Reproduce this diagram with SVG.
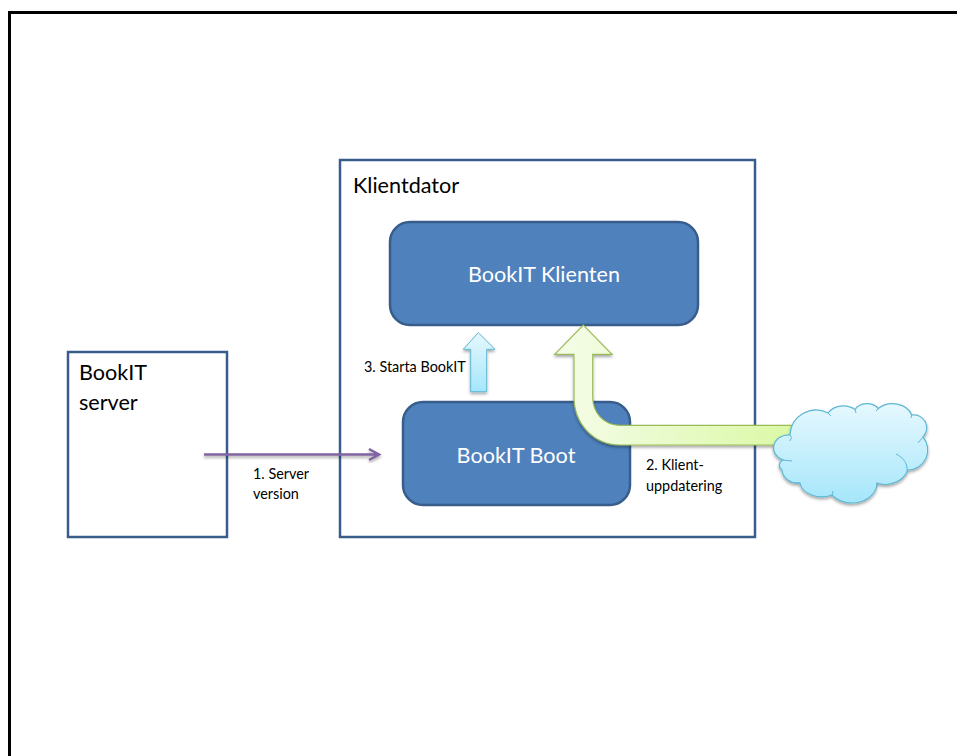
<svg xmlns="http://www.w3.org/2000/svg" width="957" height="756" viewBox="0 0 957 756">
<style>
text{font-family:"Lato","Open Sans","Liberation Sans",sans-serif}
.box{fill:#fff;stroke:#385d8a;stroke-width:2.5}
.blue{fill:#4f81bd;stroke:#385d8a;stroke-width:2.5}
.big{font-size:21.6px;fill:#000}
.white{font-size:21.6px;fill:#fff;text-anchor:middle}
.small{font-size:14.4px;fill:#000}
</style>
<defs>
<filter id="sh" x="-20%" y="-20%" width="140%" height="140%"><feDropShadow dx="0" dy="2" stdDeviation="1.5" flood-color="#000" flood-opacity="0.35"/></filter>
<linearGradient id="gg" gradientUnits="userSpaceOnUse" x1="574" y1="0" x2="790" y2="0"><stop offset="0" stop-color="#f3fce4"/><stop offset="1" stop-color="#dbf9a6"/></linearGradient>
<linearGradient id="bg" x1="0" y1="0" x2="0" y2="1"><stop offset="0" stop-color="#e6f8fe"/><stop offset="1" stop-color="#a5e6fb"/></linearGradient>
</defs>
<rect width="957" height="756" fill="#fff"/>
<path d="M9.500 756V12.500H957" fill="none" stroke="#000" stroke-width="3"/>
<g id="server"><rect class="box" x="68" y="352" width="159" height="185"/><text class="big" x="79" y="380">BookIT</text><text class="big" x="79" y="410">server</text></g>
<g id="klientdator"><rect class="box" x="340" y="160" width="415" height="377"/><text class="big" x="353" y="193">Klientdator</text></g>
<g id="klienten"><rect class="blue" x="390" y="222" width="308" height="103" rx="20"/><text class="white" x="544" y="282">BookIT Klienten</text></g>
<g id="boot"><rect class="blue" x="403" y="402" width="227" height="103" rx="20"/><text class="white" x="516" y="463">BookIT Boot</text></g>
<g id="connectors">
<path d="M204 454.500H378M369 449l10 5.500-10 5.500" fill="none" stroke="#8064a2" stroke-width="2.500" filter="url(#sh)"/>
<path d="M470.700 391.700V349.300H463.300L478.300 332.700 495 349.300H486.700V391.700Z" fill="url(#bg)" stroke="#5fb8d3" stroke-width="1" filter="url(#sh)"/>
<path d="M574 354.300H554.700L583.300 325 612 354.300H592.700V397C592.700 413 604 425.300 620 425.300H795V445H620C594 445 574 424 574 397Z" fill="url(#gg)" stroke="#9bbb59" stroke-width="1.200" filter="url(#sh)"/>
</g>
<g id="labels">
<text class="small" x="253" y="479">1. Server</text><text class="small" x="253" y="499">version</text>
<text class="small" x="364" y="372">3. Starta BookIT</text>
<text class="small" x="646" y="470">2. Klient-</text><text class="small" x="646" y="491">uppdatering</text>
</g>
<g id="cloud">
<path d="M790 435A26 26 0 0 1 828 413A18 15 0 0 1 855 409.500A14 12 0 0 1 878.300 408.500A20 16 0 0 1 911.700 415A13 13 0 0 1 923 437A20 20 0 0 1 908 470A24 22 0 0 1 877 483A25 20 0 0 1 832 495A22 16 0 0 1 800 483A16 14 0 0 1 782 470A7 6 0 0 1 783 460A15 13 0 0 1 790 435Z" fill="url(#bg)" stroke="#5fb8d3" stroke-width="1.200" filter="url(#sh)"/>
<path d="M790 435Q793 437 790 441M828 413L831 416M855 409.500L856 413M878.300 408.500L876 411M911.700 415L911 418M923 437L918 443M896 454C904 458 908 464 907 472M877 483L877 487M832 495L833 491M800 483L795 483M783 460L792 461" fill="none" stroke="#5fb8d3" stroke-width="1"/>
</g>
</svg>
